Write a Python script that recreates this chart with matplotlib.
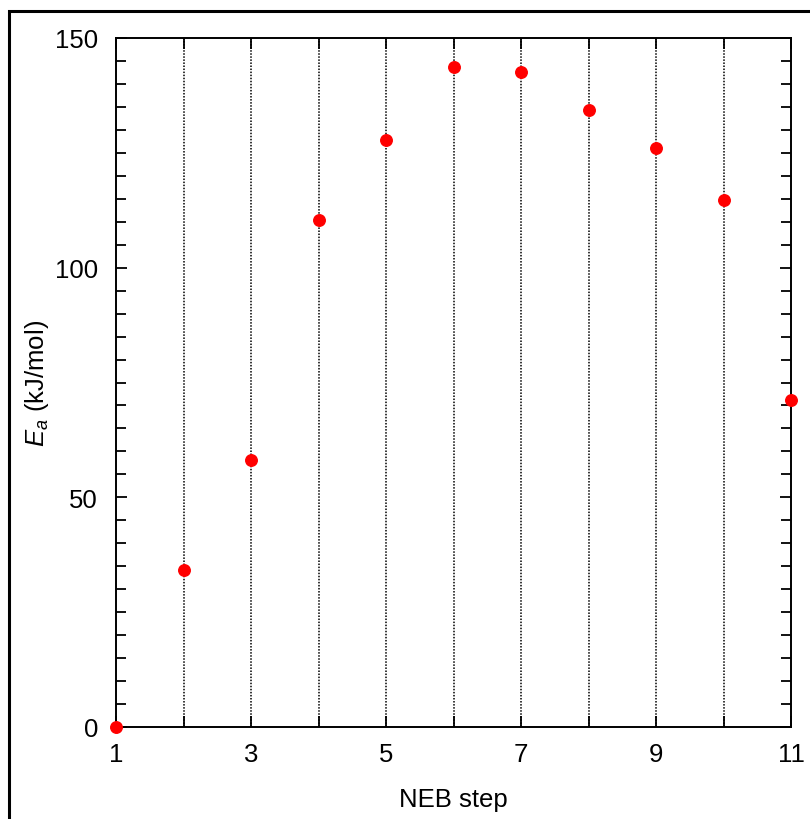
import matplotlib
matplotlib.use("Agg")
import matplotlib.pyplot as plt
from matplotlib.patches import Rectangle

steps = [1, 2, 3, 4, 5, 6, 7, 8, 9, 10, 11]
energy = [0.0, 34.2, 58.2, 110.4, 127.9, 143.6, 142.7, 134.4, 126.1, 114.7, 71.1]
xtick_labels = ["1", "", "3", "", "5", "", "7", "", "9", "", "11"]
yticks = [0, 50, 100, 150]

plt.rcParams['font.family'] = ['Liberation Sans', 'DejaVu Sans']
plt.rcParams['mathtext.fontset'] = 'custom'
plt.rcParams['mathtext.rm'] = 'Liberation Sans'
plt.rcParams['mathtext.it'] = 'Liberation Sans:italic'

fs = 18.5
fig = plt.figure(figsize=(8.1, 8.2), dpi=100)
fig.patches.append(Rectangle((9/810, -0.05), 1.2, 1 - 12/820 + 0.05, transform=fig.transFigure,
                             fill=False, edgecolor='black', linewidth=2.2))
ax = fig.add_axes([116/810, 92/820, 675/810, 689/820])

ax.set_xlim(1, 11)
ax.set_ylim(0, 150)
for x in steps[1:-1]:
    ax.axvline(x, color='black', linestyle=(0, (1, 1)), linewidth=1.1, zorder=1)

ax.plot(steps, energy, 'o', color='#ff0000', markersize=8.3, clip_on=False, zorder=5)

ax.set_xticks(steps)
ax.set_xticklabels(xtick_labels)
ax.set_yticks(yticks)
ax.set_yticks(range(0, 151, 5), minor=True)
ax.tick_params(axis='both', which='major', direction='in', length=8, width=1.3,
               labelsize=fs, top=True, right=True)
ax.tick_params(axis='y', which='minor', direction='in', length=7, width=1.3, right=True)
ax.tick_params(axis='x', which='major', pad=11)
ax.tick_params(axis='y', which='major', pad=13)
for s in ax.spines.values():
    s.set_linewidth(1.4)

ax.set_xlabel('NEB step', fontsize=fs, labelpad=15)
ax.set_ylabel('$E_a$ (kJ/mol)', fontsize=fs, labelpad=3)

fig.savefig('out.png', dpi=100)
